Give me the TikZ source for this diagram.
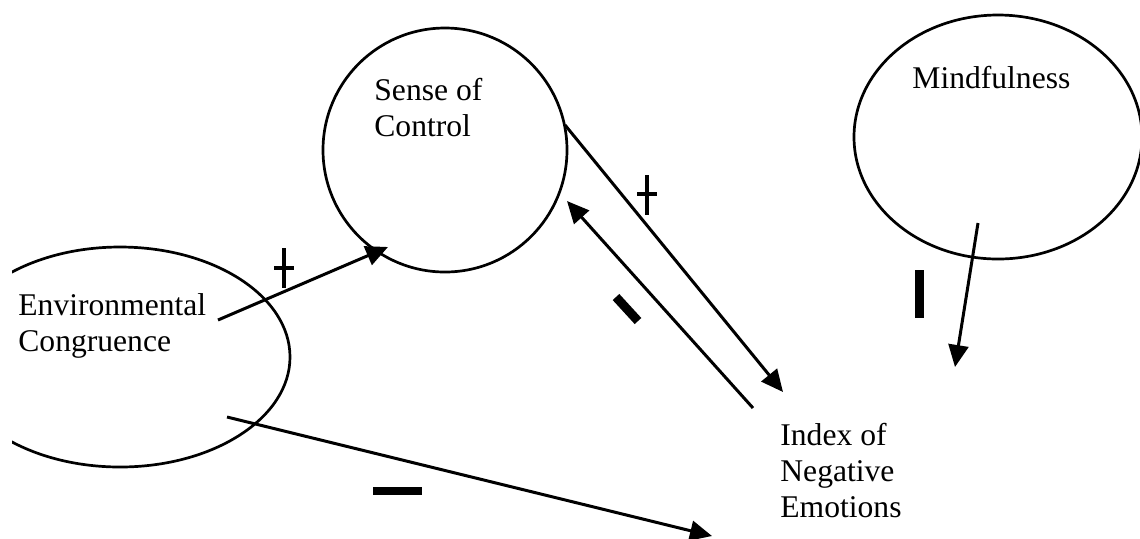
\documentclass[tikz,border=0pt]{standalone}
\usepackage{fontspec}
\setmainfont{Liberation Serif}
\usetikzlibrary{arrows.meta,shapes.geometric}
\begin{document}
\begin{tikzpicture}[x=0.5pt,y=-0.5pt,
  bubble/.style={draw,line width=1.35pt,inner sep=0pt,outer sep=0pt},
  lbl/.style={anchor=base west,inner sep=0pt,align=left,
    font=\fontsize{15.8pt}{18pt}\selectfont},
  conn/.style={line width=1.5pt,-{Triangle[length=11pt,width=10pt]}},
  plussign/.style={line width=2.2pt},
  minussign/.style={line width=4.5pt}]
\useasboundingbox (0,0) rectangle (1140,538);
\begin{scope}
\clip (12,0) rectangle (1140,538);
\node[bubble,circle,minimum size=122pt] (soc) at (445,150) {};
\node[bubble,ellipse,minimum width=144pt,minimum height=122pt] (mind) at (998,137) {};
\node[bubble,ellipse,minimum width=170pt,minimum height=110pt] (env) at (120,357) {};
\end{scope}
% multi-line labels: base anchor is the baseline of the last line
\node[lbl] (socT) at (374,136) {Sense of\\Control};
\node[lbl] (mindT) at (912,88) {Mindfulness};
\node[lbl] (envT) at (18,351) {Environmental\\Congruence};
\node[lbl] (idx) at (780,517) {Index of\\Negative\\Emotions};
% connector end points
\coordinate (e1) at (218,320);
\coordinate (s1) at (388,247);
\coordinate (s2) at (565,125);
\coordinate (i2) at (783,392);
\coordinate (i3) at (753,408);
\coordinate (s3) at (567,201);
\coordinate (m4) at (978,223);
\coordinate (i4) at (955,367);
\coordinate (e5) at (227,417);
\coordinate (i5) at (712,536);
\draw[conn] (e1) -- (s1);
\draw[conn] (s2) -- (i2);
\draw[conn] (i3) -- (s3);
\draw[conn] (m4) -- (i4);
\draw[conn] (e5) -- (i5);
% signs
\draw[plussign] (284,248) -- (284,288) (274,268) -- (294,268);
\draw[plussign] (647,175) -- (647,215) (637,194) -- (657,194);
\draw[minussign] (616,297) -- (638,321);
\draw[minussign] (919,270) -- (919,318);
\draw[line width=4pt] (373,491) -- (422,491);
\end{tikzpicture}
\end{document}
